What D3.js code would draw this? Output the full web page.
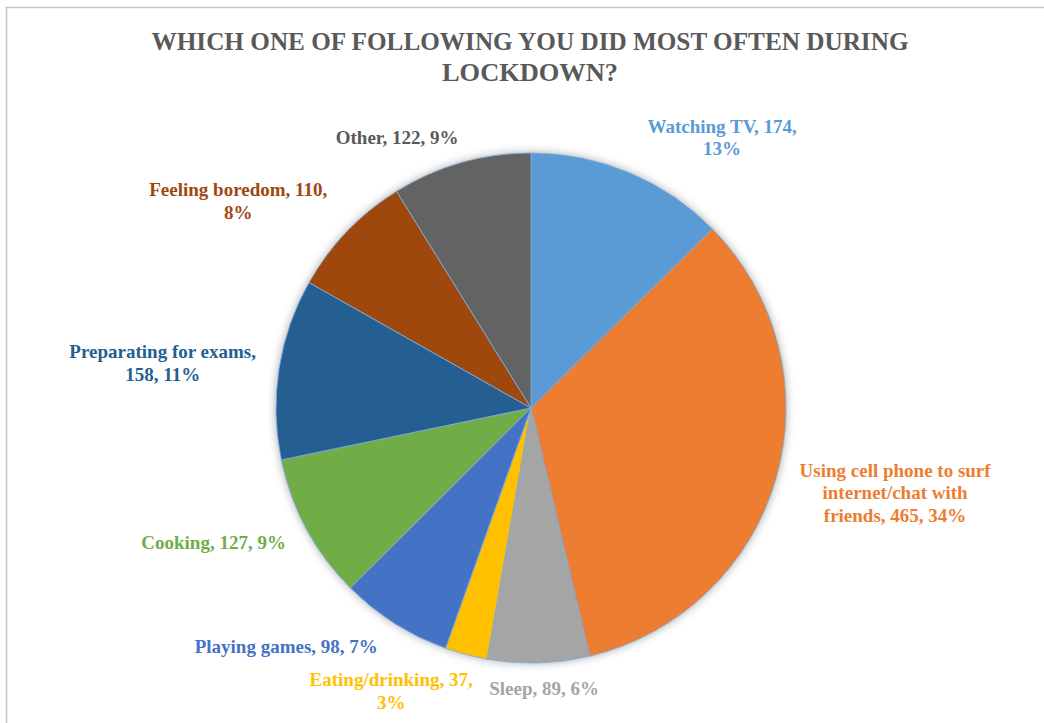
<!DOCTYPE html>
<html>
<head>
<meta charset="utf-8">
<script src="https://cdn.jsdelivr.net/npm/d3@7/dist/d3.min.js"></script>
<style>
  html, body { margin: 0; padding: 0; background: #fff; }
  svg { display: block; }
</style>
</head>
<body>
<svg id="chart"></svg>
<script>
// data
var categories = ["Watching TV", "Using cell phone to surf internet/chat with friends", "Sleep",
    "Eating/drinking", "Playing games", "Cooking", "Preparating for exams", "Feeling boredom", "Other"];
var values = [174, 465, 89, 37, 98, 127, 158, 110, 122];
var titleLines = ["WHICH ONE OF FOLLOWING YOU DID MOST OFTEN DURING", "LOCKDOWN?"];

// layout
var colors = ["#5b9bd5", "#ed7d31", "#a5a5a5", "#ffc000", "#4472c4", "#70ad47", "#255e91", "#9e480e", "#636363"];
var wordsPerLine = [[3, 1], [5, 2, 3], [3], [2, 1], [4], [3], [3, 2], [3, 1], [3]];
var labelNudge = [[73, 12], [70, 0], [4, -25], [-62, -13], [-81, -20], [-48, -11], [-66, 2], [-72, 5], [-50, 24]];

var W = 1044, H = 723;
var cx = 531, cy = 408, r = 255;
var lineH = 22.5;

var svg = d3.select("#chart").attr("width", W).attr("height", H);

// 枠
svg.append("rect")
    .attr("x", 6.5).attr("y", 7.5)
    .attr("width", W + 20).attr("height", H + 20)
    .attr("fill", "none").attr("stroke", "#b9c3d1").attr("stroke-width", 1.5);

var defs = svg.append("defs");
defs.append("filter").attr("id", "soft")
    .attr("x", "-20%").attr("y", "-20%").attr("width", "140%").attr("height", "140%")
    .append("feDropShadow")
    .attr("dx", 0).attr("dy", 0).attr("stdDeviation", 5)
    .attr("flood-color", "#000").attr("flood-opacity", 0.35);

// タイトル
var titleWidths = [757, 176];
svg.append("g").selectAll("text").data(titleLines).join("text")
    .attr("x", cx - 1)
    .attr("y", function(d, i){ return 49.5 + i * 31; })
    .attr("text-anchor", "middle")
    .attr("font-family", "'Liberation Serif', 'Times New Roman', serif")
    .attr("font-weight", "bold")
    .attr("font-size", 26)
    .attr("fill", "#595959")
    .attr("textLength", function(d, i){ return titleWidths[i]; })
    .attr("lengthAdjust", "spacingAndGlyphs")
    .text(function(d){ return d; });

var total = d3.sum(values);
var pie = d3.pie().sort(null).value(function(d){ return d; });
var arcs = pie(values);
var arc = d3.arc().innerRadius(0).outerRadius(r);
var labelArc = d3.arc().innerRadius(r * 1.2).outerRadius(r * 1.2);

var g = svg.append("g").attr("transform", "translate(" + cx + "," + cy + ")");

g.append("circle").attr("r", r).attr("fill", "#fff").attr("filter", "url(#soft)");

g.selectAll("path.slice").data(arcs).join("path")
    .attr("class", "slice")
    .attr("d", arc)
    .attr("fill", function(d, i){ return colors[i]; })
    .attr("stroke", "#7fa9d8")
    .attr("stroke-width", 0.9);

// ラベル
function labelLines(i){
    var pct = Math.round(values[i] / total * 100);
    var words = (categories[i] + ", " + values[i] + ", " + pct + "%").split(" ");
    var lines = [], k = 0;
    wordsPerLine[i].forEach(function(n){
        lines.push(words.slice(k, k + n).join(" "));
        k += n;
    });
    return lines;
}

var labels = g.selectAll("text.lbl").data(arcs).join("text")
    .attr("class", "lbl")
    .attr("text-anchor", "middle")
    .attr("font-family", "'Liberation Serif', 'Times New Roman', serif")
    .attr("font-weight", "bold")
    .attr("font-size", 19)
    .attr("fill", function(d, i){ return i === 8 ? "#595959" : colors[i]; })
    .attr("transform", function(d, i){
        var c = labelArc.centroid(d);
        return "translate(" + (c[0] + labelNudge[i][0]) + "," + (c[1] + labelNudge[i][1]) + ")";
    });

labels.each(function(d, i){
    var lines = labelLines(i);
    var y0 = -(lines.length - 1) * lineH / 2 + 6.5;
    d3.select(this).selectAll("tspan").data(lines).join("tspan")
        .attr("x", 0)
        .attr("y", function(t, j){ return y0 + j * lineH; })
        .text(function(t){ return t; });
});
</script>
</body>
</html>
